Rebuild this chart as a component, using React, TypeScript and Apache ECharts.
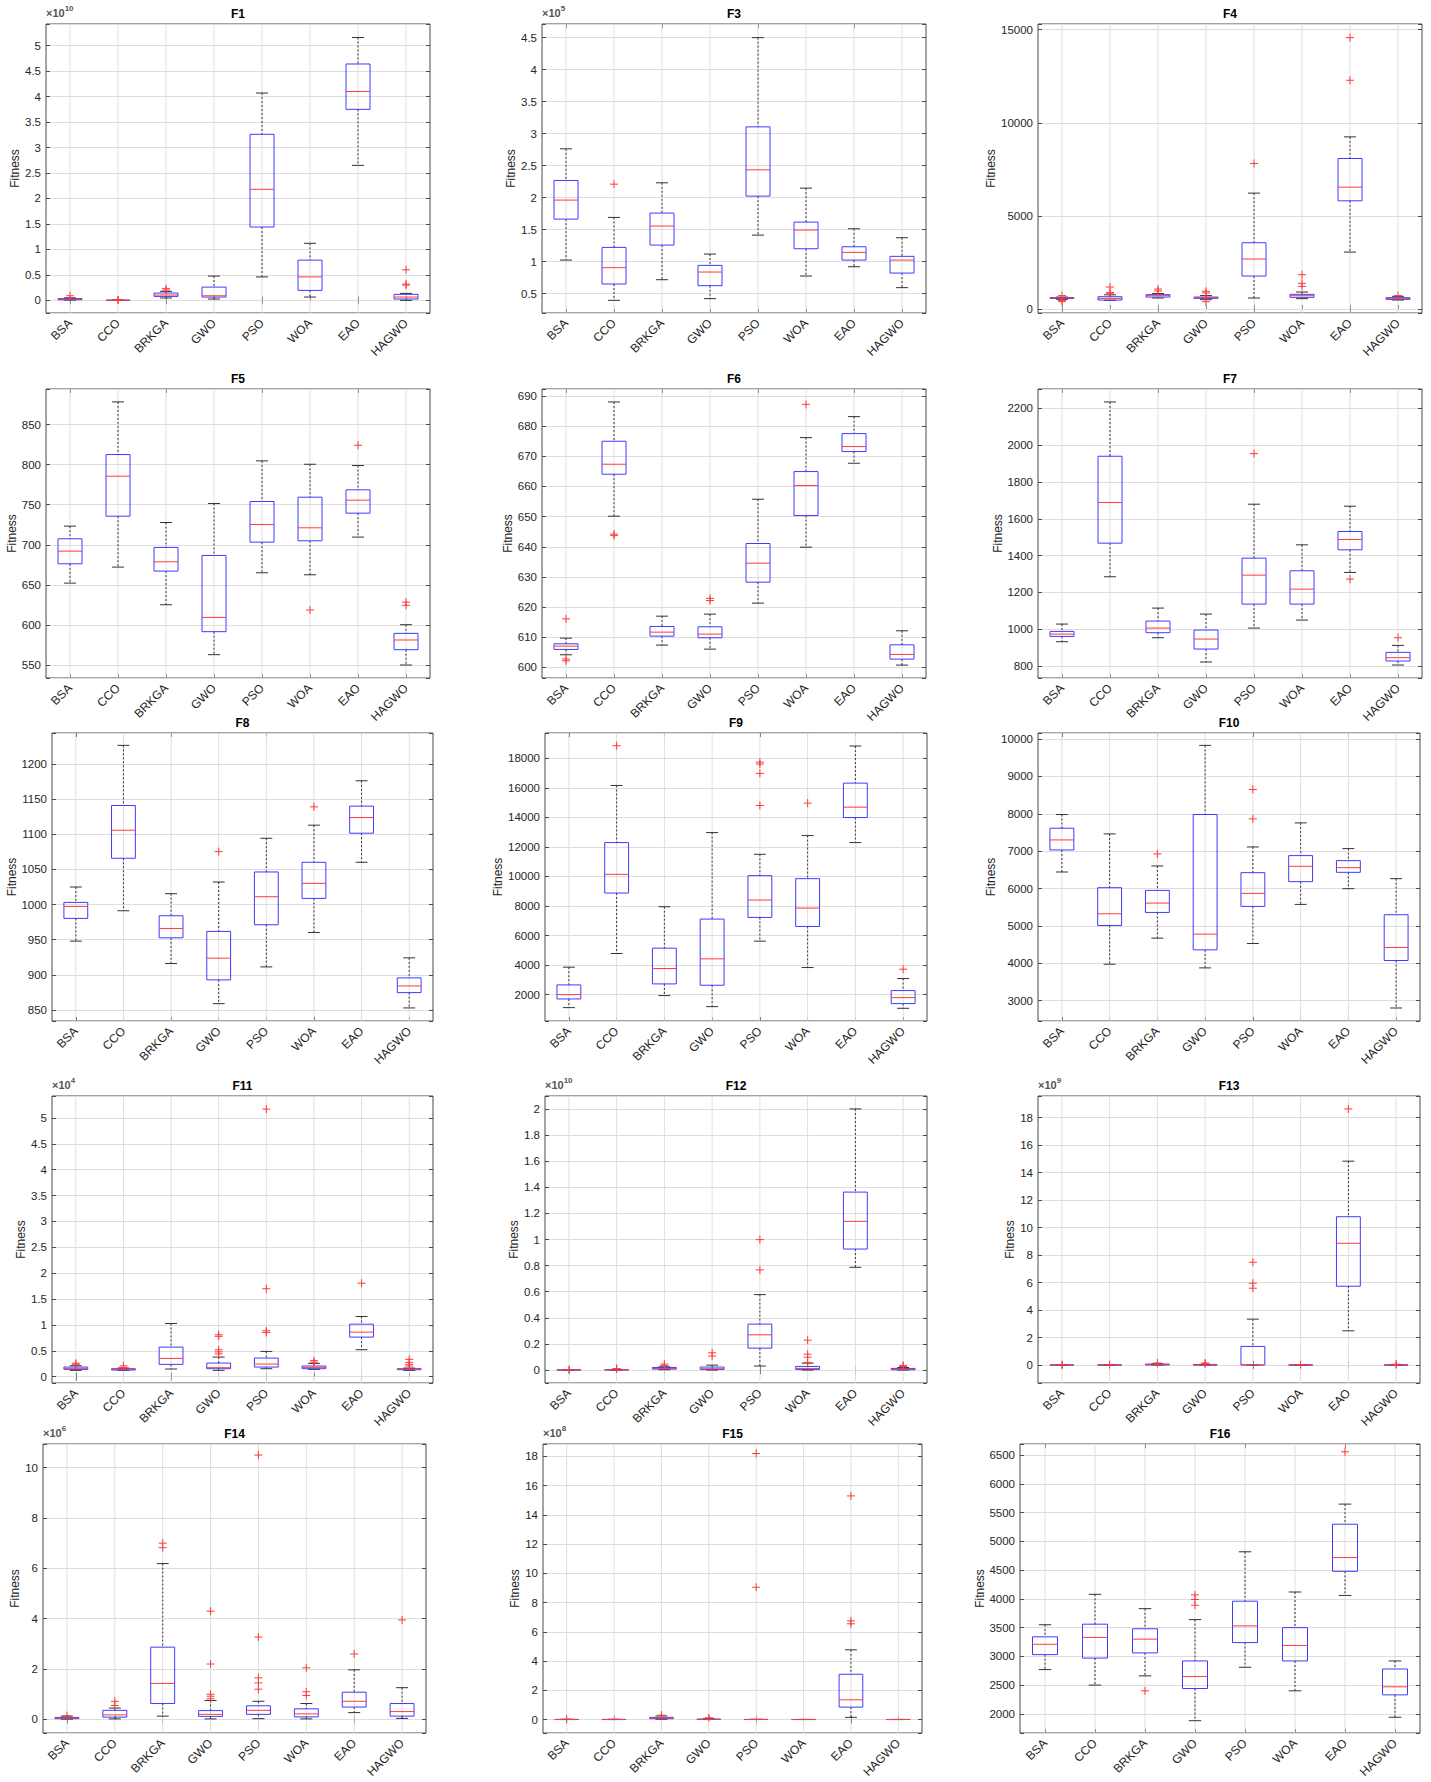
import React, { useEffect, useRef } from 'react';
import * as echarts from 'echarts';

const algorithms = ['BSA', 'CCO', 'BRKGA', 'GWO', 'PSO', 'WOA', 'EAO', 'HAGWO'];

// Each box row: [lower whisker, Q1, median, Q3, upper whisker] per algorithm
// Outliers: [algorithm index, value]
const F1_box = [
  [0.005, 0.012, 0.02, 0.035, 0.05],
  [0, 0, 0.002, 0.004, 0.006],
  [0.046, 0.078, 0.105, 0.144, 0.176],
  [0.026, 0.065, 0.09, 0.26, 0.477],
  [0.46, 1.44, 2.18, 3.26, 4.07],
  [0.065, 0.196, 0.46, 0.79, 1.12],
  [2.65, 3.75, 4.1, 4.64, 5.16],
  [0.0, 0.026, 0.065, 0.118, 0.137],
];
const F1_out = [[0, 0.09], [1, 0.004], [1, 0.01], [2, 0.2], [2, 0.23], [7, 0.3], [7, 0.32], [7, 0.6]];

const F3_box = [
  [1.025, 1.665, 1.962, 2.269, 2.763],
  [0.396, 0.651, 0.906, 1.223, 1.691],
  [0.718, 1.259, 1.556, 1.759, 2.232],
  [0.422, 0.625, 0.838, 0.942, 1.119],
  [1.415, 2.024, 2.435, 3.106, 4.5],
  [0.776, 1.202, 1.494, 1.618, 2.149],
  [0.921, 1.025, 1.145, 1.233, 1.514],
  [0.594, 0.822, 1.025, 1.083, 1.374],
];
const F3_out = [[1, 2.211]];

const F4_box = [
  [520, 565, 590, 610, 640],
  [465, 480, 570, 660, 760],
  [590, 640, 715, 770, 830],
  [500, 570, 605, 640, 720],
  [590, 1770, 2682, 3558, 6222],
  [554, 626, 715, 787, 912],
  [3057, 5810, 6543, 8081, 9243],
  [483, 518, 572, 608, 680],
];
const F4_out = [
  [0, 400], [0, 450], [0, 720], [1, 820], [1, 890], [1, 1180], [2, 965], [2, 1070],
  [3, 390], [3, 860], [3, 950], [4, 7813], [5, 1216], [5, 1377], [5, 1841],
  [6, 12282], [6, 14571], [7, 720],
];

const F5_box = [
  [652.2, 676.3, 692.1, 707.5, 723.3],
  [672.2, 735.7, 785.6, 812.6, 878.3],
  [625.2, 667.2, 678.8, 696.7, 727.8],
  [562.9, 591.6, 609.4, 686.7, 751.5],
  [665.1, 703.3, 725.3, 754.0, 804.7],
  [662.6, 705.0, 721.2, 759.4, 800.5],
  [709.6, 739.5, 755.7, 768.6, 798.9],
  [550.0, 569.1, 581.2, 589.5, 600.3],
];
const F5_out = [[5, 618.6], [6, 824.2], [7, 624.5], [7, 628.5]];

const F6_box = [
  [604.2, 605.96, 607.07, 607.84, 609.72],
  [650.13, 664.05, 667.36, 674.98, 688.0],
  [607.4, 610.38, 611.7, 613.58, 617.0],
  [606.07, 609.83, 611.04, 613.47, 617.67],
  [621.31, 628.27, 634.56, 641.08, 655.76],
  [639.86, 650.35, 660.29, 664.93, 676.19],
  [667.69, 671.56, 673.21, 677.52, 683.15],
  [600.77, 602.76, 604.31, 607.5, 612.15],
];
const F6_out = [[0, 616.1], [0, 602.8], [0, 602.2], [1, 644.2], [1, 643.7], [3, 622.9], [3, 622.2], [5, 687.2]];

const F7_box = [
  [932.0, 961.0, 973.6, 988.1, 1027.9],
  [1284.8, 1467.5, 1688.1, 1939.5, 2234.4],
  [953.7, 980.9, 1006.2, 1044.2, 1114.7],
  [821.7, 892.2, 946.5, 995.4, 1082.2],
  [1006.2, 1136.4, 1293.8, 1386.1, 1679.1],
  [1049.6, 1136.4, 1217.8, 1317.3, 1458.4],
  [1308.3, 1431.3, 1487.3, 1530.8, 1668.2],
  [805.4, 827.1, 845.2, 874.2, 912.1],
];
const F7_out = [[4, 1954], [6, 1272], [7, 953.7]];

const F8_box = [
  [948.0, 980.3, 997.4, 1003.1, 1025.0],
  [991.2, 1065.9, 1105.8, 1141.0, 1226.6],
  [916.1, 952.7, 966.0, 984.1, 1015.5],
  [859.0, 892.8, 923.7, 961.8, 1032.1],
  [911.3, 971.3, 1011.2, 1046.4, 1094.4],
  [960.3, 1008.8, 1030.2, 1060.2, 1113.0],
  [1060.2, 1101.6, 1123.9, 1140.1, 1176.2],
  [852.9, 874.7, 884.2, 895.7, 924.2],
];
const F8_out = [[3, 1075.4], [5, 1139.1]];

const F9_box = [
  [1117, 1706, 2000, 2656, 3856],
  [4784, 8880, 10147, 12297, 16167],
  [1932, 2724, 3765, 5146, 7952],
  [1185, 2634, 4422, 7115, 12976],
  [5621, 7228, 8405, 10057, 11505],
  [3833, 6617, 7861, 9853, 12772],
  [12297, 13994, 14696, 16325, 18837],
  [1072, 1389, 1796, 2272, 3086],
];
const F9_out = [[1, 18860], [4, 17750], [4, 17620], [4, 16982], [4, 14809], [5, 14968], [7, 3720]];

const F10_box = [
  [6442, 7032, 7300, 7613, 7980],
  [3974, 5011, 5324, 6022, 7461],
  [4672, 5360, 5610, 5950, 6603],
  [3876, 4359, 4779, 7980, 9830],
  [4529, 5521, 5870, 6424, 7112],
  [5575, 6183, 6594, 6880, 7756],
  [5995, 6433, 6558, 6746, 7068],
  [2803, 4073, 4421, 5298, 6263],
];
const F10_out = [[2, 6925], [4, 8650], [4, 7863]];

const F11_box = [
  [0.122, 0.141, 0.161, 0.186, 0.212],
  [0.122, 0.129, 0.141, 0.154, 0.167],
  [0.148, 0.238, 0.353, 0.572, 1.028],
  [0.122, 0.154, 0.174, 0.263, 0.379],
  [0.154, 0.186, 0.244, 0.36, 0.488],
  [0.141, 0.154, 0.18, 0.206, 0.257],
  [0.521, 0.765, 0.861, 1.015, 1.163],
  [0.122, 0.135, 0.141, 0.154, 0.167],
];
const F11_out = [
  [0, 0.24], [0, 0.26], [1, 0.18], [1, 0.21], [3, 0.44], [3, 0.48], [3, 0.52], [3, 0.78], [3, 0.81],
  [4, 0.855], [4, 0.887], [4, 1.7], [4, 5.17], [5, 0.28], [5, 0.31], [6, 1.806],
  [7, 0.206], [7, 0.238], [7, 0.276], [7, 0.334],
];

const F12_box = [
  [0, 0.0005, 0.001, 0.0015, 0.003],
  [0, 0.001, 0.002, 0.003, 0.005],
  [0.0025, 0.0076, 0.0127, 0.02, 0.025],
  [0, 0.005, 0.01, 0.023, 0.038],
  [0.031, 0.168, 0.27, 0.352, 0.578],
  [0, 0.005, 0.013, 0.028, 0.053],
  [0.787, 0.927, 1.139, 1.363, 2.0],
  [0, 0.0025, 0.005, 0.0127, 0.02],
];
const F12_out = [
  [0, 0.004], [1, 0.008], [1, 0.012], [2, 0.036], [2, 0.046], [3, 0.107], [3, 0.132],
  [4, 0.767], [4, 0.999], [5, 0.059], [5, 0.099], [5, 0.122], [5, 0.229], [7, 0.028], [7, 0.036],
];

const F13_box = [
  [0, 0, 0.005, 0.01, 0.02],
  [0, 0, 0.005, 0.01, 0.02],
  [0, 0.01, 0.03, 0.07, 0.1],
  [0, 0.005, 0.01, 0.03, 0.05],
  [0, 0.005, 0.02, 1.355, 3.339],
  [0, 0, 0.005, 0.01, 0.02],
  [2.49, 5.734, 8.855, 10.79, 14.83],
  [0, 0, 0.005, 0.01, 0.02],
];
const F13_out = [
  [0, 0.03], [1, 0.03], [2, 0.15], [3, 0.1], [3, 0.15], [4, 5.589], [4, 5.952], [4, 7.476],
  [5, 0.03], [6, 18.63], [7, 0.04], [7, 0.06],
];

const F14_box = [
  [0.01, 0.03, 0.05, 0.08, 0.13],
  [0.02, 0.09, 0.18, 0.36, 0.45],
  [0.13, 0.63, 1.43, 2.87, 6.19],
  [0.02, 0.12, 0.2, 0.35, 0.75],
  [0.03, 0.2, 0.36, 0.54, 0.72],
  [0.02, 0.1, 0.22, 0.42, 0.63],
  [0.27, 0.49, 0.72, 1.08, 1.97],
  [0.04, 0.13, 0.31, 0.63, 1.26],
];
const F14_out = [
  [0, 0.15], [1, 0.55], [1, 0.72], [2, 6.82], [2, 7.0], [3, 0.82], [3, 0.92], [3, 1.0], [3, 2.2], [3, 4.3],
  [4, 1.2], [4, 1.45], [4, 1.65], [4, 3.27], [4, 10.5], [5, 0.95], [5, 1.1], [5, 2.05], [6, 2.6], [7, 3.95],
];

const F15_box = [
  [0, 0, 0.005, 0.01, 0.02],
  [0, 0, 0.005, 0.01, 0.02],
  [0.02, 0.06, 0.1, 0.15, 0.25],
  [0, 0.005, 0.01, 0.03, 0.06],
  [0, 0.002, 0.005, 0.01, 0.02],
  [0, 0.001, 0.003, 0.006, 0.01],
  [0.15, 0.85, 1.35, 3.1, 4.77],
  [0, 0.001, 0.003, 0.006, 0.01],
];
const F15_out = [[0, 0.02], [2, 0.3], [3, 0.12], [4, 9.05], [4, 18.2], [6, 6.55], [6, 6.75], [6, 15.3]];

const F16_box = [
  [2770, 3030, 3210, 3340, 3550],
  [2500, 2970, 3330, 3560, 4080],
  [2660, 3060, 3300, 3480, 3830],
  [1880, 2440, 2650, 2920, 3640],
  [2810, 3240, 3530, 3960, 4820],
  [2400, 2920, 3190, 3500, 4120],
  [4060, 4480, 4720, 5300, 5650],
  [1940, 2330, 2470, 2780, 2920],
];
const F16_out = [[2, 2400], [3, 3890], [3, 3990], [3, 4070], [6, 6560]];

// axis setup per panel
const panels = [
  { title: 'F1', box: F1_box, out: F1_out, min: -0.248, max: 5.425, step: 0.5, exp: '10' },
  { title: 'F3', box: F3_box, out: F3_out, min: 0.198, max: 4.713, step: 0.5, exp: '5' },
  { title: 'F4', box: F4_box, out: F4_out, min: -215, max: 15304, step: 5000, exp: '' },
  { title: 'F5', box: F5_box, out: F5_out, min: 533.8, max: 894.4, step: 50, exp: '' },
  { title: 'F6', box: F6_box, out: F6_out, min: 596.5, max: 692.3, step: 10, exp: '' },
  { title: 'F7', box: F7_box, out: F7_out, min: 734.9, max: 2304.9, step: 200, exp: '' },
  { title: 'F8', box: F8_box, out: F8_out, min: 834.3, max: 1244.2, step: 50, exp: '' },
  { title: 'F9', box: F9_box, out: F9_out, min: 212, max: 19720, step: 2000, exp: '' },
  { title: 'F10', box: F10_box, out: F10_out, min: 2455, max: 10161, step: 1000, exp: '' },
  { title: 'F11', box: F11_box, out: F11_out, min: -0.122, max: 5.424, step: 0.5, exp: '4' },
  { title: 'F12', box: F12_box, out: F12_out, min: -0.099, max: 2.099, step: 0.2, exp: '10' },
  { title: 'F13', box: F13_box, out: F13_out, min: -1.306, max: 19.57, step: 2, exp: '9' },
  { title: 'F14', box: F14_box, out: F14_out, min: -0.54, max: 10.94, step: 2, exp: '6' },
  { title: 'F15', box: F15_box, out: F15_out, min: -0.92, max: 18.85, step: 2, exp: '8' },
  { title: 'F16', box: F16_box, out: F16_out, min: 1666, max: 6696, step: 500, exp: '' },
];

// plot frames (pixels) and y-name gaps
const frames = [
  { l: 46, r: 430, t: 24, b: 313, g: 21 },
  { l: 542, r: 926, t: 24, b: 313, g: 20 },
  { l: 1038, r: 1422, t: 24, b: 313, g: 35 },
  { l: 46, r: 430, t: 389, b: 678, g: 23 },
  { l: 542, r: 926, t: 389, b: 678, g: 23 },
  { l: 1038, r: 1422, t: 389, b: 678, g: 29 },
  { l: 52, r: 433, t: 733, b: 1021, g: 30 },
  { l: 545, r: 927, t: 733, b: 1021, g: 35 },
  { l: 1038, r: 1420, t: 733, b: 1021, g: 34 },
  { l: 52, r: 433, t: 1096, b: 1383, g: 21 },
  { l: 545, r: 927, t: 1096, b: 1383, g: 20 },
  { l: 1038, r: 1420, t: 1096, b: 1383, g: 18 },
  { l: 43, r: 426, t: 1444, b: 1733, g: 19 },
  { l: 543, r: 922, t: 1444, b: 1733, g: 22 },
  { l: 1020, r: 1420, t: 1444, b: 1733, g: 16 },
];

const FONT = '"Liberation Sans", Arial, Helvetica, sans-serif';
const TXT = '#262626';
const AXIS = '#4a4a4a';
const GRIDC = '#dedede';
const BLUE = '#3c3cff';
const RED = '#ff3a3a';
const WHISK = '#333333';

function renderBox(params: any, api: any) {
  const i = api.value(0);
  const lo = api.value(1), q1 = api.value(2), md = api.value(3), q3 = api.value(4), hi = api.value(5);
  const band = api.size([1, 0])[0];
  const cx = api.coord([i, md])[0];
  const Y = (v: number) => api.coord([i, v])[1];
  const cs = params.coordSys;
  const hw = band * 0.25, cw = band * 0.125;
  const dash = { stroke: WHISK, lineWidth: 1, lineDash: [2, 2] };
  const solid = { stroke: WHISK, lineWidth: 1 };
  return {
    type: 'group',
    children: [
      { type: 'line', shape: { x1: cx, y1: cs.y, x2: cx, y2: cs.y + cs.height }, style: { stroke: GRIDC, lineWidth: 1 } },
      { type: 'line', shape: { x1: cx, y1: Y(hi), x2: cx, y2: Y(q3) }, style: dash },
      { type: 'line', shape: { x1: cx, y1: Y(q1), x2: cx, y2: Y(lo) }, style: dash },
      { type: 'line', shape: { x1: cx - cw, y1: Y(hi), x2: cx + cw, y2: Y(hi) }, style: solid },
      { type: 'line', shape: { x1: cx - cw, y1: Y(lo), x2: cx + cw, y2: Y(lo) }, style: solid },
      { type: 'rect', shape: { x: cx - hw, y: Y(q3), width: 2 * hw, height: Y(q1) - Y(q3) }, style: { fill: 'none', stroke: BLUE, lineWidth: 1 } },
      { type: 'line', shape: { x1: cx - hw, y1: Y(md), x2: cx + hw, y2: Y(md) }, style: { stroke: RED, lineWidth: 1 } },
    ],
  };
}

function renderOut(params: any, api: any) {
  const p = api.coord([api.value(0), api.value(1)]);
  const s = 4;
  return {
    type: 'group',
    children: [
      { type: 'line', shape: { x1: p[0] - s, y1: p[1], x2: p[0] + s, y2: p[1] }, style: { stroke: RED, lineWidth: 1 } },
      { type: 'line', shape: { x1: p[0], y1: p[1] - s, x2: p[0], y2: p[1] + s }, style: { stroke: RED, lineWidth: 1 } },
    ],
  };
}

const fmt = (step: number) => (v: number) => {
  const r = v / step;
  return Math.abs(r - Math.round(r)) < 1e-6 ? String(parseFloat(v.toFixed(6))) : '';
};

export default function App() {
  const ref = useRef<HTMLDivElement>(null);
  useEffect(() => {
    const chart = echarts.init(ref.current as HTMLDivElement, null, { renderer: 'svg' });
    const grid: any[] = [], xAxis: any[] = [], yAxis: any[] = [], series: any[] = [], title: any[] = [];
    const tick = { show: true, inside: true, length: 4, lineStyle: { color: AXIS, width: 1 } };
    panels.forEach((p, k) => {
      const f = frames[k];
      grid.push({ left: f.l, top: f.t, width: f.r - f.l, height: f.b - f.t, show: true, borderColor: AXIS, borderWidth: 1, backgroundColor: '#ffffff' });
      const xb = xAxis.length;
      xAxis.push({
        type: 'category', gridIndex: k, data: algorithms, position: 'bottom',
        axisLine: { show: false }, axisTick: { ...tick, alignWithLabel: true },
        axisLabel: { rotate: 45, fontSize: 12, color: TXT, margin: 8, interval: 0 },
        splitLine: { show: false },
      });
      xAxis.push({
        type: 'category', gridIndex: k, data: algorithms, position: 'top',
        axisLine: { show: false }, axisTick: { ...tick, alignWithLabel: true },
        axisLabel: { show: false }, splitLine: { show: false },
      });
      const yb = yAxis.length;
      const yCommon = {
        type: 'value', gridIndex: k, min: p.min, max: p.max,
        minInterval: p.step, maxInterval: p.step,
        splitNumber: Math.round((p.max - p.min) / p.step),
      };
      yAxis.push({
        ...yCommon, position: 'left',
        name: 'Fitness', nameLocation: 'middle', nameGap: f.g,
        nameTextStyle: { fontSize: 12, color: TXT },
        axisLine: { show: false }, axisTick: tick,
        axisLabel: { fontSize: 11.5, color: TXT, margin: 5, formatter: fmt(p.step) },
        splitLine: { show: true, lineStyle: { color: GRIDC, width: 1 } },
      });
      yAxis.push({
        ...yCommon, position: 'right',
        axisLine: { show: false }, axisTick: tick,
        axisLabel: { show: false }, splitLine: { show: false },
      });
      series.push({
        type: 'custom', xAxisIndex: xb, yAxisIndex: yb, silent: true,
        data: p.box.map((b, i) => [i, ...b]),
        encode: { x: 0, y: [1, 2, 3, 4, 5] },
        renderItem: renderBox,
      });
      series.push({
        type: 'custom', xAxisIndex: xb, yAxisIndex: yb, silent: true,
        data: p.out,
        encode: { x: 0, y: 1 },
        renderItem: renderOut,
      });
      title.push({
        text: p.title, left: (f.l + f.r) / 2, top: f.t - 16, textAlign: 'center', padding: 0,
        textStyle: { fontSize: 12, fontWeight: 'bold', color: '#000', fontFamily: FONT },
      });
      if (p.exp) {
        title.push({
          text: `{a|×10}{b|${p.exp}}`, left: f.l, top: f.t - 20, padding: 0,
          textStyle: {
            fontFamily: FONT,
            rich: {
              a: { fontSize: 11, color: '#555', fontFamily: FONT, verticalAlign: 'bottom' },
              b: { fontSize: 8, color: '#555', fontFamily: FONT, verticalAlign: 'bottom', padding: [0, 0, 6, 0] },
            },
          },
        });
      }
    });
    chart.setOption({
      animation: false,
      backgroundColor: '#ffffff',
      textStyle: { fontFamily: FONT },
      title, grid, xAxis, yAxis, series,
    });
    return () => chart.dispose();
  }, []);
  return <div ref={ref} style={{ position: 'absolute', left: 0, top: 0, width: 1431, height: 1782, background: '#fff' }} />;
}
